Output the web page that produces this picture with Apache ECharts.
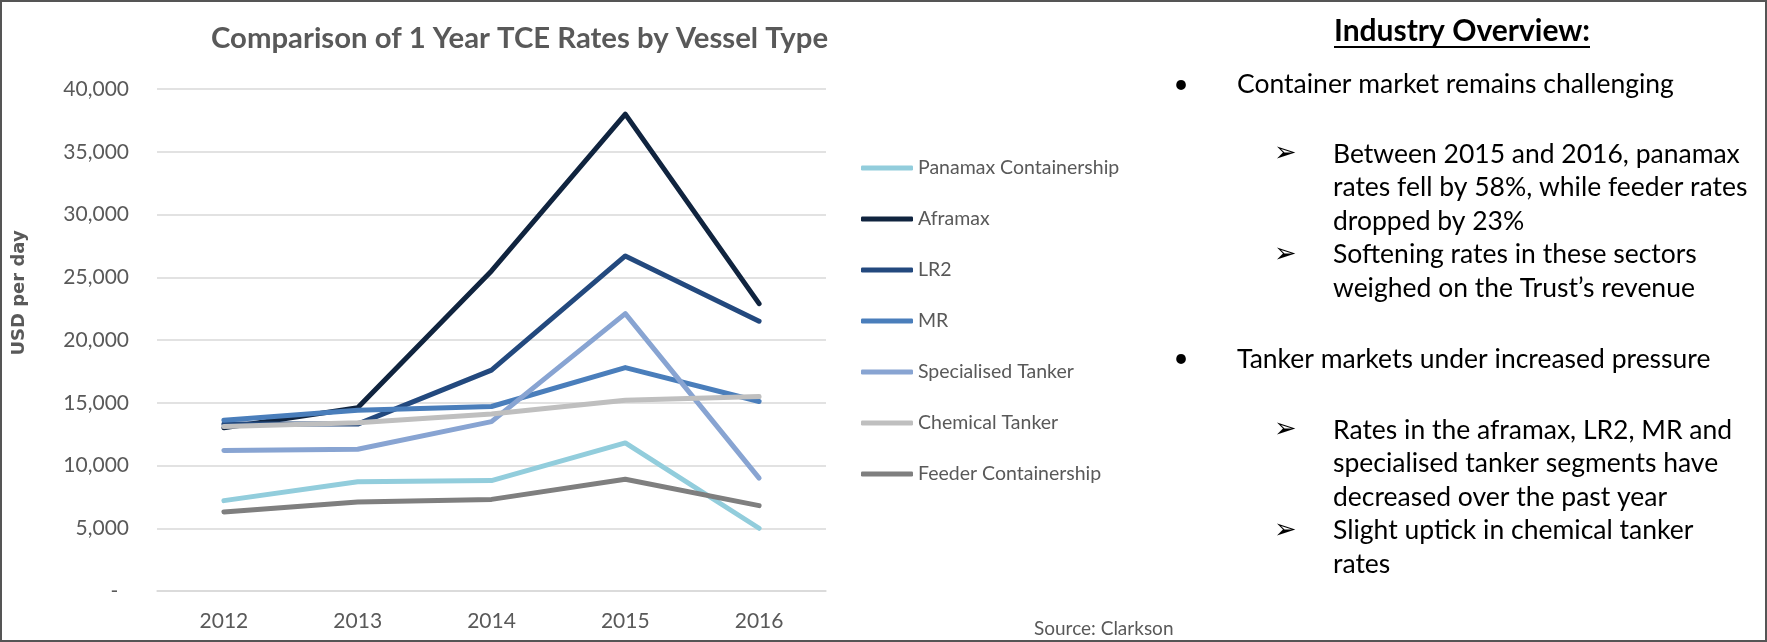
<!DOCTYPE html>
<html>
<head>
<meta charset="utf-8">
<script src="https://cdn.jsdelivr.net/npm/echarts@6/dist/echarts.min.js"></script>
<style>
  html, body { margin: 0; padding: 0; background: #fff; }
  #chart { width: 1767px; height: 642px; }
</style>
</head>
<body>
<div id="chart"></div>
<script>
// data
const years = ['2012', '2013', '2014', '2015', '2016'];
const seriesNames = ['Panamax Containership', 'Aframax', 'LR2', 'MR', 'Specialised Tanker', 'Chemical Tanker', 'Feeder Containership'];
const panamax = [7200, 8700, 8800, 11800, 5000];
const aframax = [13000, 14600, 25500, 38000, 22900];
const lr2 = [13300, 13300, 17600, 26700, 21500];
const mr = [13600, 14400, 14700, 17800, 15100];
const specialised = [11200, 11300, 13500, 22100, 9000];
const chemical = [13100, 13400, 14100, 15200, 15500];
const feeder = [6300, 7100, 7300, 8900, 6800];
const seriesColors = ['#92CDDC', '#10243F', '#23497E', '#4A7EBB', '#88A4D2', '#BFBFBF', '#7F7F7F'];

const overviewItems = [
    { bullet: 'Container market remains challenging', subs: [
        ['Between 2015 and 2016, panamax', 'rates fell by 58%, while feeder rates', 'dropped by 23%'],
        ['Softening rates in these sectors', 'weighed on the Trust\u2019s revenue']
    ] },
    { bullet: 'Tanker markets under increased pressure', subs: [
        ['Rates in the aframax, LR2, MR and', 'specialised tanker segments have', 'decreased over the past year'],
        ['Slight uptick in chemical tanker', 'rates']
    ] }
];

const gray = '#595959';
const bodyFont = 'Lato, "Open Sans", sans-serif';

const allValues = [panamax, aframax, lr2, mr, specialised, chemical, feeder];

const chart = echarts.init(document.getElementById('chart'));

// right hand text panel
const panel = [];
const lineH = 33.5;
panel.push({
    type: 'text', x: 1462, y: 31,
    style: { text: 'Industry Overview:', fontFamily: bodyFont, fontWeight: 'bold', fontSize: 30, fill: '#000', align: 'center', verticalAlign: 'middle' }
});
panel.push({
    type: 'line', shape: { x1: 1334, y1: 47, x2: 1590, y2: 47 },
    style: { stroke: '#000', lineWidth: 2 }
});
const bulletY = [84.4, 359];
const subStart = [154, 430];
overviewItems.forEach((item, i) => {
    panel.push({
        type: 'text', x: 1181, y: bulletY[i],
        style: { text: '\u2022', fontFamily: bodyFont, fontSize: 26, fill: '#000', align: 'center', verticalAlign: 'middle' }
    });
    panel.push({
        type: 'text', x: 1237, y: bulletY[i],
        style: { text: item.bullet, fontFamily: bodyFont, fontSize: 26.5, fill: '#000', verticalAlign: 'middle' }
    });
    let y = subStart[i];
    item.subs.forEach(lines => {
        panel.push({
            type: 'text', x: 1274, y: y,
            style: { text: '\u27A2', fontFamily: '"DejaVu Sans"', fontSize: 27, fill: '#000', verticalAlign: 'middle' }
        });
        lines.forEach(t => {
            panel.push({
                type: 'text', x: 1333, y: y,
                style: { text: t, fontFamily: bodyFont, fontSize: 26.5, fill: '#000', verticalAlign: 'middle' }
            });
            y += lineH;
        });
    });
});

chart.setOption({
    animation: false,
    title: {
        text: 'Comparison of 1 Year TCE Rates by Vessel Type',
        left: 206,
        top: 19,
        textStyle: { fontFamily: bodyFont, fontSize: 29.3, fontWeight: 'bold', color: gray }
    },
    legend: {
        orient: 'vertical',
        left: 856,
        top: 152,
        icon: 'roundRect',
        itemWidth: 52,
        itemHeight: 5,
        itemGap: 29,
        textStyle: { fontFamily: bodyFont, fontSize: 19.5, color: gray, lineHeight: 22 },
        data: seriesNames
    },
    grid: { left: 157, right: 941, top: 89, bottom: 51 },
    xAxis: {
        type: 'category',
        data: years,
        boundaryGap: true,
        axisLine: { lineStyle: { color: '#D9D9D9', width: 1.5 } },
        axisTick: { show: false },
        axisLabel: { fontFamily: bodyFont, fontSize: 21, color: gray, margin: 20 }
    },
    yAxis: {
        type: 'value',
        min: 0,
        max: 40000,
        interval: 5000,
        axisLine: { show: false },
        axisTick: { show: false },
        splitLine: { lineStyle: { color: '#D9D9D9', width: 1.5 } },
        axisLabel: {
            fontFamily: bodyFont, fontSize: 21, color: gray, margin: 28,
            formatter: v => v === 0 ? '-  ' : v.toLocaleString('en-US')
        }
    },
    graphic: [
        {
            type: 'rect', shape: { x: 1, y: 1, width: 1765, height: 640 },
            style: { fill: 'none', stroke: '#555', lineWidth: 2 }
        },
        {
            type: 'text', x: 19, y: 293, rotation: Math.PI / 2,
            style: { text: 'USD per day', fontFamily: '"DejaVu Sans"', fontWeight: 'bold', fontSize: 18, fill: gray, align: 'center', verticalAlign: 'middle' }
        },
        {
            type: 'text', x: 1034, y: 629,
            style: { text: 'Source: Clarkson', fontFamily: bodyFont, fontSize: 19, fill: gray, verticalAlign: 'middle' }
        }
    ].concat(panel),
    series: seriesNames.map((name, i) => ({
        name: name,
        type: 'line',
        data: allValues[i],
        symbol: 'none',
        color: seriesColors[i],
        lineStyle: { width: 5, color: seriesColors[i], cap: 'round', join: 'round' }
    }))
});
</script>
</body>
</html>
